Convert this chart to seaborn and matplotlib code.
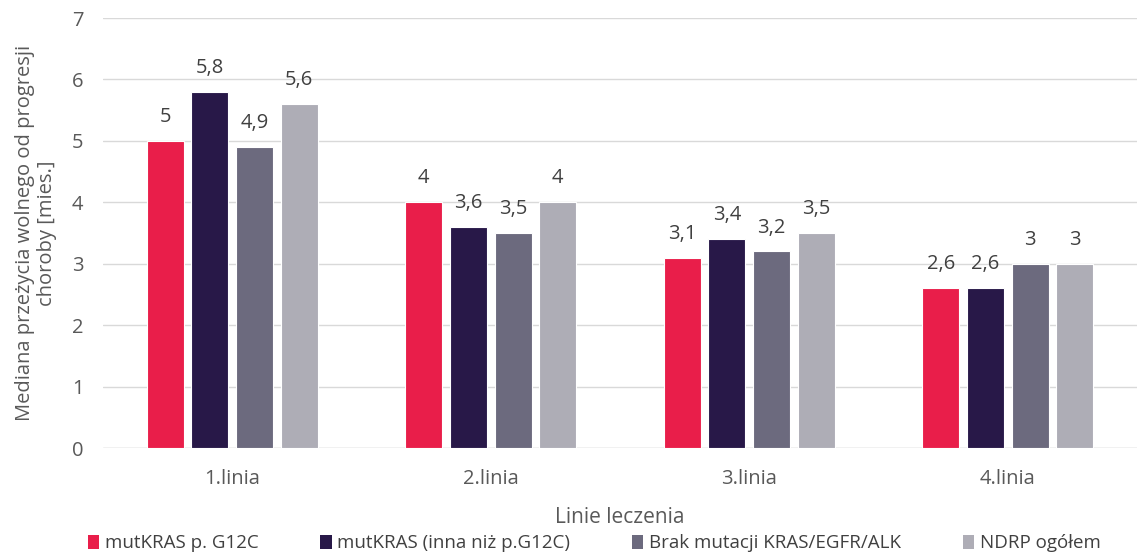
import pandas as pd
import matplotlib.pyplot as plt
import seaborn as sns

# Data
lines = ['1.linia', '2.linia', '3.linia', '4.linia']
groups = ['mutKRAS p. G12C', 'mutKRAS (inna niż p.G12C)',
          'Brak mutacji KRAS/EGFR/ALK', 'NDRP ogółem']
g12c = [5, 4, 3.1, 2.6]
other_kras = [5.8, 3.6, 3.4, 2.6]
no_mut = [4.9, 3.5, 3.2, 3]
ndrp_all = [5.6, 4, 3.5, 3]
colors = ['#E91E4A', '#281848', '#6C6A7E', '#AEADB6']

rows = []
for name, vals in zip(groups, [g12c, other_kras, no_mut, ndrp_all]):
    for line, v in zip(lines, vals):
        rows.append({'linia': line, 'grupa': name, 'mediana': v})
df = pd.DataFrame(rows)

sns.set_style('white')
plt.rcParams['font.family'] = ['Open Sans', 'DejaVu Sans']

fig = plt.figure(figsize=(11.37, 5.54), dpi=100)
ax = fig.add_axes([0.0906, 0.1913, 0.9094, 0.7762])

sns.barplot(data=df, x='linia', y='mediana', hue='grupa', hue_order=groups,
            palette=colors, saturation=1, width=0.69, gap=0.17,
            edgecolor='white', linewidth=0.8, ax=ax)

for cont in ax.containers:
    labels = [f'{v:g}'.replace('.', ',') for v in cont.datavalues]
    ax.bar_label(cont, labels=labels, padding=10, fontsize=14.5, color='#404040')

ax.set_ylim(0, 7)
ax.set_xlim(-0.5, 3.5)
ax.set_yticks(range(0, 8))
ax.yaxis.grid(True, color='#D9D9D9', linewidth=1)
ax.set_axisbelow(True)
sns.despine(ax=ax, left=True, bottom=True, top=True, right=True)
ax.axhline(0, color='#D9D9D9', linewidth=1, zorder=0)
ax.tick_params(axis='both', length=0, labelsize=14.5, colors='#595959')
ax.tick_params(axis='x', pad=15)
ax.tick_params(axis='y', pad=14)

ax.set_xlabel('Linie leczenia', fontsize=15, color='#595959', labelpad=13)
ax.set_ylabel('Mediana przeżycia wolnego od progresji\nchoroby [mies.]',
              fontsize=14.5, color='#595959', labelpad=11, linespacing=1.1)

ax.legend(loc='center', bbox_to_anchor=(0.475, -0.222), ncol=4,
          frameon=False, fontsize=13.5, handlelength=0.6, handleheight=0.8,
          handletextpad=0.3, columnspacing=3.3, labelcolor='#404040',
          borderaxespad=0)
for h in ax.get_legend().legend_handles:
    h.set_edgecolor('none')

fig.savefig('out.png', dpi=100)
